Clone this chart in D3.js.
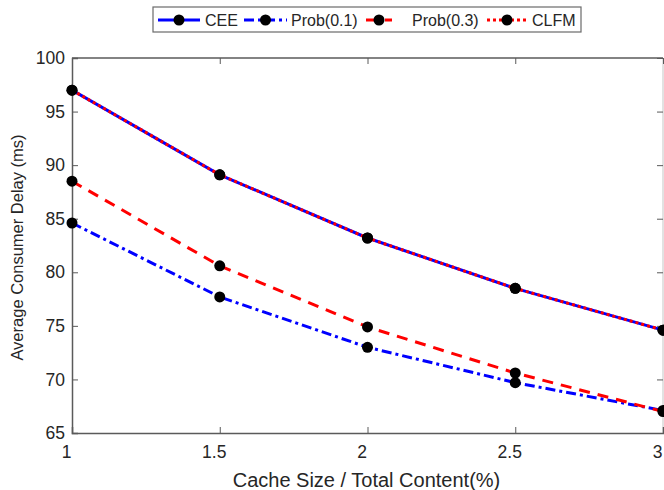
<!DOCTYPE html>
<html>
<head>
<meta charset="utf-8">
<script src="https://cdn.jsdelivr.net/npm/d3@7"></script>
<style>
  body { margin: 0; background: #fff; }
  svg { display: block; font-family: "Liberation Sans", Arial, sans-serif; }
</style>
</head>
<body>
<svg id="chart" width="664" height="490"></svg>
<script>
// data
var cacheSizes = [1, 1.5, 2, 2.5, 3]
var ceeDelay = [97.0, 89.1, 83.2, 78.5, 74.6]
var prob01Delay = [84.6, 77.7, 73.0, 69.7, 67.1]
var prob03Delay = [88.5, 80.6, 74.9, 70.6, 67.0]
var clfmDelay = [97.0, 89.1, 83.2, 78.5, 74.6]
var xTicks = [1, 1.5, 2, 2.5, 3]
var yTicks = [65, 70, 75, 80, 85, 90, 95, 100]

var svg = d3.select('#chart'),
  margin = {top: 58, right: 1, bottom: 57, left: 72},
  width = +svg.attr('width') - margin.left - margin.right,
  height = +svg.attr('height') - margin.top - margin.bottom

var x = d3.scaleLinear().domain([1, 3]).range([0, width]),
  y = d3.scaleLinear().domain([65, 100]).range([height, 0])

var g = svg.append('g')
  .attr('transform', 'translate(' + margin.left + ',' + margin.top + ')')

var axisColor = '#5a5a5a'
var textColor = '#262626'

// frame
g.append('line').attr('x1', 0).attr('x2', width).attr('y1', 0).attr('y2', 0)
  .attr('stroke', axisColor).attr('stroke-width', 1.5)
g.append('line').attr('x1', width).attr('x2', width).attr('y1', 0).attr('y2', height)
  .attr('stroke', '#d8d8d8').attr('stroke-width', 1.5)

// bottom axis, ticks pointing inward
var xAxis = g.append('g')
  .attr('transform', 'translate(0,' + height + ')')
  .call(d3.axisBottom(x).tickValues(xTicks).tickSize(-6).tickPadding(13)
    .tickFormat(function (d) { return d }))
xAxis.select('.domain').attr('stroke', axisColor).attr('stroke-width', 1.5)
xAxis.selectAll('.tick line').attr('stroke', axisColor)
xAxis.selectAll('.tick text').attr('fill', textColor).attr('font-size', 17.5)
  .attr('dx', -6)

// top ticks
g.append('g')
  .call(d3.axisTop(x).tickValues(xTicks).tickSize(-6).tickFormat(''))
  .call(function (s) {
    s.select('.domain').remove()
    s.selectAll('.tick line').attr('stroke', axisColor)
  })

var yAxis = g.append('g')
  .call(d3.axisLeft(y).tickValues(yTicks).tickSize(-6).tickPadding(7))
yAxis.select('.domain').attr('stroke', axisColor).attr('stroke-width', 1.5)
yAxis.selectAll('.tick line').attr('stroke', axisColor)
yAxis.selectAll('.tick text').attr('fill', textColor).attr('font-size', 17.5)

// right ticks
g.append('g')
  .attr('transform', 'translate(' + width + ',0)')
  .call(d3.axisRight(y).tickValues(yTicks).tickSize(-6).tickFormat(''))
  .call(function (s) {
    s.select('.domain').remove()
    s.selectAll('.tick line').attr('stroke', axisColor)
  })

// axis titles
svg.append('text')
  .attr('x', margin.left + width / 2 - 1)
  .attr('y', 487)
  .attr('text-anchor', 'middle')
  .attr('font-size', 20)
  .attr('fill', textColor)
  .text('Cache Size / Total Content(%)')

svg.append('text')
  .attr('transform', 'translate(23,' + (margin.top + height / 2 + 2) + ') rotate(-90)')
  .attr('text-anchor', 'middle')
  .attr('font-size', 16.5)
  .attr('fill', textColor)
  .text('Average Consumer Delay (ms)')

var series = [
  {name: 'CEE', values: ceeDelay, color: '#0000ff', dash: null},
  {name: 'Prob(0.1)', values: prob01Delay, color: '#0000ff', dash: '10,4,3,4'},
  {name: 'Prob(0.3)', values: prob03Delay, color: '#ff0000', dash: '11,8'},
  {name: 'CLFM', values: clfmDelay, color: '#ff0000', dash: '3,3'}
]

var line = d3.line()
  .x(function (d, i) { return x(cacheSizes[i]) })
  .y(function (d) { return y(d) })

series.forEach(function (s) {
  g.append('path')
    .datum(s.values)
    .attr('fill', 'none')
    .attr('stroke', s.color)
    .attr('stroke-width', 3)
    .attr('stroke-dasharray', s.dash)
    .attr('d', line)
})

series.forEach(function (s) {
  g.append('g')
    .selectAll('circle')
    .data(s.values)
    .enter().append('circle')
    .attr('cx', function (d, i) { return x(cacheSizes[i]) })
    .attr('cy', function (d) { return y(d) })
    .attr('r', 5.5)
    .attr('fill', '#000')
})

// legend
var legend = svg.append('g')
legend.append('rect')
  .attr('x', 153).attr('y', 7).attr('width', 428).attr('height', 25)
  .attr('fill', '#fff').attr('stroke', '#6a6a6a').attr('stroke-width', 1.2)

var legendItems = [
  {x1: 158, x2: 200, text: 205},
  {x1: 244, x2: 287, text: 291},
  {x1: 366, x2: 392, text: 412},
  {x1: 487, x2: 527, text: 532}
]

series.forEach(function (s, i) {
  var it = legendItems[i]
  legend.append('line')
    .attr('x1', it.x1).attr('x2', it.x2).attr('y1', 20).attr('y2', 20)
    .attr('stroke', s.color).attr('stroke-width', 3)
    .attr('stroke-dasharray', s.dash)
  legend.append('circle')
    .attr('cx', (it.x1 + it.x2) / 2).attr('cy', 20).attr('r', 5.5)
    .attr('fill', '#000')
  legend.append('text')
    .attr('x', it.text).attr('y', 26)
    .attr('font-size', 16)
    .attr('fill', textColor)
    .text(s.name)
})
</script>
</body>
</html>
